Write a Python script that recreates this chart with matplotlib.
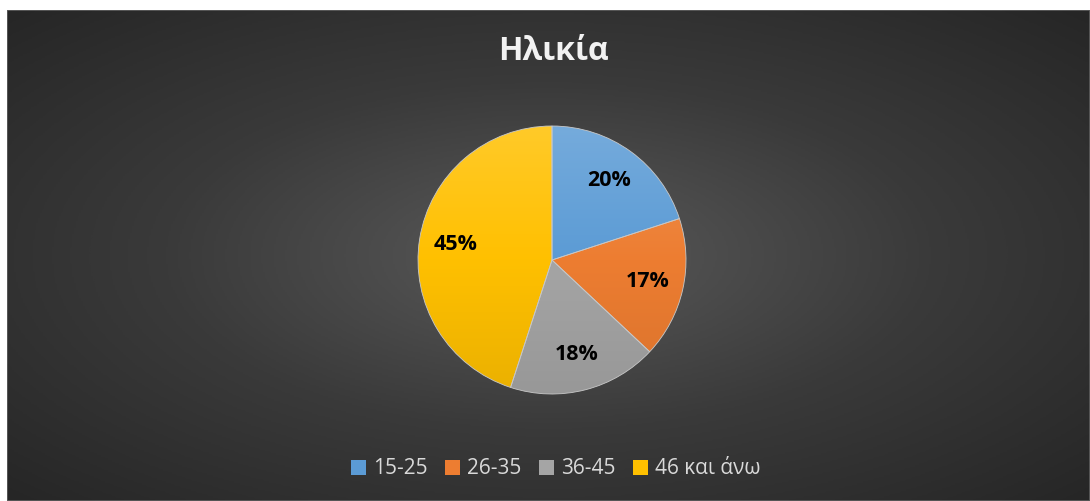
import numpy as np
import matplotlib
matplotlib.use('Agg')
import matplotlib.pyplot as plt
from matplotlib.colors import LinearSegmentedColormap, to_rgb
from matplotlib.patches import Patch, Rectangle

plt.rcParams['font.family'] = ['Open Sans', 'DejaVu Sans']

# Dados
titulo = 'Ηλικία'
categorias = ['15-25', '26-35', '36-45', '46 και άνω']
valores = [20, 17, 18, 45]
cores = ['#5B9BD5', '#ED7D31', '#A5A5A5', '#FFC000']

W, H = 1090, 501
fig = plt.figure(figsize=(W / 100, H / 100), dpi=100)
fig.patch.set_facecolor('white')

# fundo escuro com gradiente radial
bg = fig.add_axes([7 / W, 0, 1 - 7 / W, 1 - 10 / H])
yy, xx = np.mgrid[0:1:300j, 0:1:600j]
r = np.sqrt(((xx - 0.5) / 0.5) ** 2 + ((yy - 0.5) / 0.5) ** 2) / np.sqrt(2)
cmap_bg = LinearSegmentedColormap.from_list('bg', ['#5a5a5a', '#3a3a3a', '#262626'])
bg.imshow(r, cmap=cmap_bg, aspect='auto', extent=(0, 1, 0, 1), vmin=0, vmax=1)
bg.add_patch(Rectangle((0, 0), 1, 1, transform=bg.transAxes, fill=False,
                       edgecolor='#5e5e5e', lw=1.2))
bg.set_axis_off()

# pizza
cx, cy, rad, half = 552, 260, 134, 150
ax = fig.add_axes([(cx - half) / W, (H - cy - half) / H, 2 * half / W, 2 * half / H])
wedges, textos, pcts = ax.pie(valores, colors=cores, startangle=90, counterclock=False,
                              radius=1, autopct='%1.0f%%', pctdistance=0.73,
                              wedgeprops=dict(edgecolor='#c8c8c8', linewidth=0.6),
                              textprops=dict(fontsize=15.5, fontweight='bold', color='black'))
grad = np.linspace(1, 0, 256).reshape(-1, 1)
for w, c in zip(wedges, cores):
    base = np.array(to_rgb(c))
    topo = base + (1 - base) * 0.16
    fundo = base * 0.92
    cm = LinearSegmentedColormap.from_list('g', [fundo, base, topo])
    im = ax.imshow(grad, cmap=cm, extent=(-1, 1, -1, 1), aspect='auto', zorder=0.5)
    im.set_clip_path(w)
    w.set_facecolor('none')
for t in pcts:
    t.set_zorder(5)
lim = half / rad
ax.set_xlim(-lim, lim)
ax.set_ylim(-lim, lim)
ax.set_axis_off()

fig.text(553 / W, 1 - 52 / H, titulo, ha='center', va='center', fontsize=23,
         fontweight='bold', color='#F2F2F2')

handles = [Patch(facecolor=c, edgecolor='none') for c in cores]
leg = fig.legend(handles, categorias, loc='center', bbox_to_anchor=(556 / W, 1 - 469 / H),
                 ncol=4, frameon=False, fontsize=15, handlelength=0.7, handleheight=0.7,
                 handletextpad=0.35, columnspacing=0.85, labelcolor='#D9D9D9')

fig.savefig('out.png', dpi=100, facecolor=fig.get_facecolor())
